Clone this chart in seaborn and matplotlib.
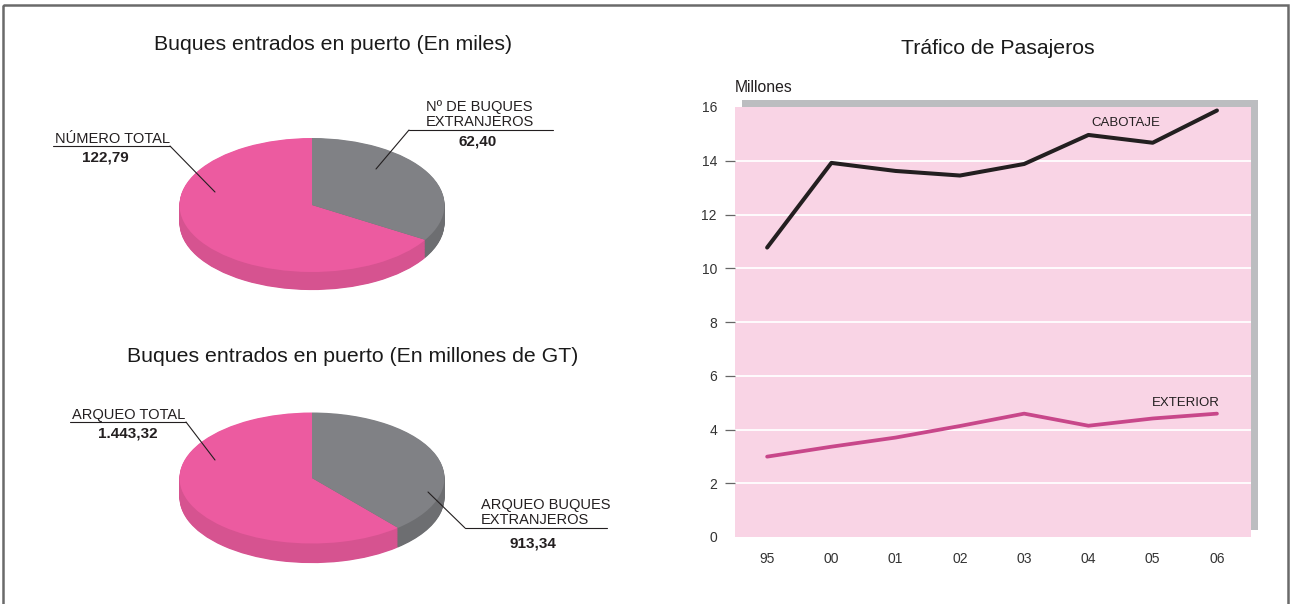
import matplotlib
matplotlib.use("Agg")
import matplotlib.pyplot as plt
import seaborn as sns
import numpy as np
from matplotlib.patches import Rectangle

# ---------------- data ----------------
pie1_labels = ["NÚMERO TOTAL", "Nº DE BUQUES\nEXTRANJEROS"]
pie1_values = [122.79, 62.40]
pie1_text = ["122,79", "62,40"]

pie2_labels = ["ARQUEO TOTAL", "ARQUEO BUQUES\nEXTRANJEROS"]
pie2_values = [1443.32, 913.34]
pie2_text = ["1.443,32", "913,34"]

years = ["95", "00", "01", "02", "03", "04", "05", "06"]
cabotaje = [10.77, 13.92, 13.62, 13.45, 13.88, 14.96, 14.67, 15.87]
exterior = [2.99, 3.36, 3.70, 4.13, 4.59, 4.14, 4.41, 4.59]
yticks = [0, 2, 4, 6, 8, 10, 12, 14, 16]

# ---------------- style ----------------
sns.set_style("white")
plt.rcParams["font.family"] = ["Liberation Sans", "DejaVu Sans"]
NARROW = ["Liberation Sans Narrow", "Liberation Sans", "DejaVu Sans"]

W, H = 1290, 604
fig = plt.figure(figsize=(W / 100, H / 100), dpi=100)

def fx(px):
    return px / W

def fy(py):
    return 1 - py / H

PINK = "#EC5BA0"
PINK_SIDE = "#D65390"
GRAY = "#808185"
GRAY_SIDE = "#6D6E71"

# overlay axes in pixel coordinates for texts / leader lines / border
ov = fig.add_axes([0, 0, 1, 1], zorder=5)
ov.set_xlim(0, W)
ov.set_ylim(H, 0)
ov.axis("off")
ov.patch.set_alpha(0)
ov.add_patch(Rectangle((3, 5), 1285, 610, fill=False, ec="#6a6a6a", lw=1.8))

# ---------------- 3D-like pies ----------------
def pie3d(cx, cy, rx, ry, depth, values):
    xl = (-1.2, 1.2)
    yl = (-1.2 - depth - 0.1, 1.2)
    wpx = (xl[1] - xl[0]) * rx
    hpx = (yl[1] - yl[0]) * ry
    left = cx + xl[0] * rx
    top = cy - yl[1] * ry
    ax = fig.add_axes([fx(left), fy(top + hpx), wpx / W, hpx / H])
    n = 30
    for k in range(n, 0, -1):
        off = depth * k / n
        ax.pie(values, colors=[PINK_SIDE, GRAY_SIDE], startangle=90,
               counterclock=True, center=(0, -off), radius=1,
               wedgeprops=dict(linewidth=0))
    ax.pie(values, colors=[PINK, GRAY], startangle=90, counterclock=True,
           center=(0, 0), radius=1, wedgeprops=dict(linewidth=0))
    ax.set_aspect("auto")
    ax.set_xlim(*xl)
    ax.set_ylim(*yl)
    ax.axis("off")
    return ax

pie3d(312, 205, 132.5, 67, 0.27, pie1_values)
pie3d(312, 478, 132.5, 65.5, 0.30, pie2_values)

title_kw = dict(fontsize=15.3, color="#1a1a1a", ha="center", va="center")
ov.text(333, 45, "Buques entrados en puerto (En miles)", **title_kw)
ov.text(353, 357, "Buques entrados en puerto (En millones de GT)", **title_kw)
ov.text(998, 48, "Tráfico de Pasajeros", **title_kw)

lab_kw = dict(fontsize=10.5, color="#231F20")
bold_kw = dict(fontsize=11, color="#231F20", fontweight="bold", ha="center")
lc = "#231F20"

# top pie labels
ov.text(55, 143, pie1_labels[0], ha="left", va="baseline", **lab_kw)
ov.plot([53, 170], [146, 146], color=lc, lw=0.8)
ov.plot([170, 215], [146, 192], color=lc, lw=0.8)
ov.text(105, 162, pie1_text[0], va="baseline", **bold_kw)

ov.text(426, 126, pie1_labels[1], ha="left", va="baseline", linespacing=1.05, **lab_kw)
ov.plot([409, 553], [130, 130], color=lc, lw=0.8)
ov.plot([409, 376], [130, 169], color=lc, lw=0.8)
ov.text(478, 146, pie1_text[1], va="baseline", **bold_kw)

# bottom pie labels
ov.text(72, 419, pie2_labels[0], ha="left", va="baseline", **lab_kw)
ov.plot([70, 186], [422, 422], color=lc, lw=0.8)
ov.plot([186, 215], [422, 460], color=lc, lw=0.8)
ov.text(128, 438, pie2_text[0], va="baseline", **bold_kw)

ov.text(481, 524, pie2_labels[1], ha="left", va="baseline", linespacing=1.05, **lab_kw)
ov.plot([465, 607], [528, 528], color=lc, lw=0.8)
ov.plot([465, 428], [528, 492], color=lc, lw=0.8)
ov.text(533, 548, pie2_text[1], va="baseline", **bold_kw)

# ---------------- line chart ----------------
L, R, T, B = 735, 1251, 107, 537
fig.patches.append(Rectangle((fx(L + 7), fy(B - 7)), (R - L) / W, (B - T) / H,
                             transform=fig.transFigure, facecolor="#BCBDC0",
                             edgecolor="none", zorder=0))
ax = fig.add_axes([fx(L), fy(B), (R - L) / W, (B - T) / H], zorder=2)
ax.set_facecolor("#F9D4E5")
xs = list(range(len(years)))
sns.lineplot(x=xs, y=cabotaje, ax=ax, color="#231F20", lw=2.9, zorder=3)
sns.lineplot(x=xs, y=exterior, ax=ax, color="#C8478A", lw=2.7, zorder=3)
ax.set_xlim(-0.5, 7.53)
ax.set_ylim(0, 16)
for s in ax.spines.values():
    s.set_visible(False)
ax.set_yticks(yticks)
ax.set_yticklabels([str(v) for v in yticks], family=NARROW, fontsize=10, color="#333333")
ax.set_xticks(xs)
ax.set_xticklabels(years, family=NARROW, fontsize=10, color="#333333")
ax.tick_params(axis="y", direction="out", length=7, width=0.9, color="#666666", pad=6, left=True)
ax.tick_params(axis="x", length=0, pad=11)
ax.yaxis.grid(True, color="white", lw=1.3)
ax.xaxis.grid(False)
ax.set_axisbelow(True)
ticks = ax.yaxis.get_major_ticks()
for i in (0, len(ticks) - 1):
    ticks[i].tick1line.set_visible(False)
    ticks[i].gridline.set_visible(False)
ax.set_xlabel("")
ax.set_ylabel("")

ov.text(735, 88, "Millones", ha="left", va="center", fontsize=11.3, color="#231F20")
ax.text(5.58, 15.4, "CABOTAJE", ha="center", va="center", fontsize=9.5, color="#231F20", family=NARROW)
ax.text(6.52, 4.98, "EXTERIOR", ha="center", va="center", fontsize=9.5, color="#231F20", family=NARROW)

fig.savefig("out.png", dpi=100)
